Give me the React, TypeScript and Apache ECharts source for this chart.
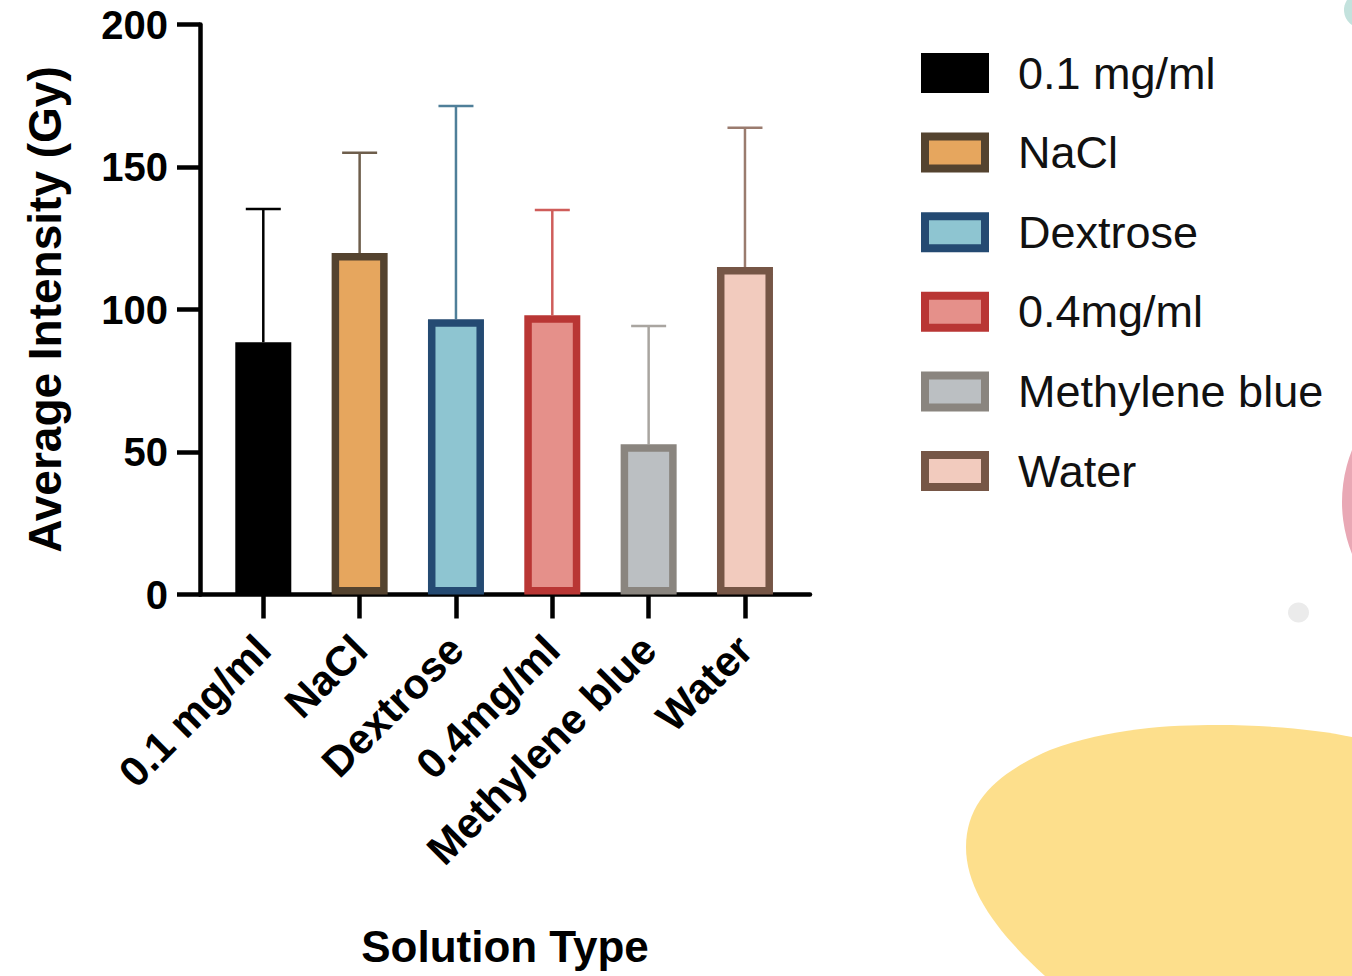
import React, { useEffect, useRef } from "react";
import * as echarts from "echarts";

const categories = ["0.1 mg/ml", "NaCl", "Dextrose", "0.4mg/ml", "Methylene blue", "Water"];
const means = [88.5, 119.8, 96.6, 98.0, 52.7, 114.9];
const errorTops = [135.3, 155.0, 171.4, 134.9, 94.2, 163.8];
const fillColors = ["#000000", "#e6a65e", "#8ec5d1", "#e5908a", "#bbbfc2", "#f2cbbe"];
const borderColors = ["#000000", "#54432f", "#244a72", "#b93634", "#8a857f", "#765646"];
const errorColors = ["#000000", "#6e5e4c", "#4f7f99", "#cf5d5a", "#a9a5a0", "#9a7b6e"];
const yTicks = [0, 50, 100, 150, 200];
const categoryPositions = [0, 1, 2, 3, 4, 5];

const FONT = "'Liberation Sans', Arial, Helvetica, sans-serif";

const blobPath =
  "M 1045 976 C 1000 935 966 892 966 847 C 966 800 1000 772 1050 750 C 1110 728 1170 725 1217 725 C 1270 725 1320 730 1352 737 L 1352 976 Z";

let registered = false;
function ensureShapes() {
  if (registered) return;
  echarts.graphic.registerShape("blob", echarts.graphic.extendPath(blobPath, {}));
  registered = true;
}

export default function App() {
  const ref = useRef<HTMLDivElement>(null);

  useEffect(() => {
    if (!ref.current) return;
    ensureShapes();
    const chart = echarts.init(ref.current, undefined, { renderer: "svg" });

    const barSeries = categories.map((name, i) => ({
      name,
      type: "bar",
      data: [[categoryPositions[i], means[i]]],
      barWidth: 56,
      barGap: "-100%",
      z: 3,
      itemStyle: {
        color: fillColors[i],
        borderColor: borderColors[i],
        borderWidth: 7.5,
      },
    }));

    const errorSeries = {
      type: "custom",
      z: 2,
      data: categories.map((_, i) => [categoryPositions[i], means[i], errorTops[i], i]),
      encode: { x: 0, y: [1, 2] },
      renderItem: (params: any, api: any) => {
        const x = api.value(0);
        const idx = api.value(3);
        const lo = api.coord([x, api.value(1)]);
        const hi = api.coord([x, api.value(2)]);
        const half = 17.5;
        const style = { stroke: errorColors[idx], lineWidth: 2.5 };
        return {
          type: "group",
          children: [
            { type: "line", shape: { x1: lo[0], y1: lo[1], x2: hi[0], y2: hi[1] }, style },
            { type: "line", shape: { x1: hi[0] - half, y1: hi[1], x2: hi[0] + half, y2: hi[1] }, style },
          ],
        };
      },
    };

    const option: any = {
      animation: false,
      backgroundColor: "#ffffff",
      textStyle: { fontFamily: FONT },
      grid: { left: 200, top: 24.5, width: 610, height: 570, containLabel: false },
      legend: {
        data: categories,
        orient: "vertical",
        left: 921,
        top: 50.5,
        padding: 0,
        itemWidth: 60,
        itemHeight: 32,
        itemGap: 34.6,
        icon: "rect",
        itemStyle: { borderWidth: 8 },
        textStyle: {
          fontFamily: FONT,
          fontSize: 45,
          color: "#111111",
          padding: [0, 0, 0, 28],
        },
        selectedMode: false,
      },
      xAxis: {
        type: "value",
        min: -0.657,
        max: 5.675,
        name: "Solution Type",
        nameLocation: "middle",
        nameGap: 330,
        nameTextStyle: { fontFamily: FONT, fontSize: 44, fontWeight: "bold", color: "#000" },
        splitLine: { show: false },
        axisLine: { show: true, onZero: false, lineStyle: { color: "#000", width: 4.5 } },
        axisTick: {
          show: true,
          length: 24,
          customValues: categoryPositions,
          lineStyle: { color: "#000", width: 4.5 },
        },
        axisLabel: {
          customValues: categoryPositions,
          formatter: (v: number) => categories[Math.round(v)] ?? "",
          rotate: 45,
          margin: 48,
          fontFamily: FONT,
          fontSize: 42,
          fontWeight: "bold",
          color: "#000",
        },
      },
      yAxis: {
        type: "value",
        min: 0,
        max: 200,
        interval: 50,
        name: "Average Intensity (Gy)",
        nameLocation: "middle",
        nameGap: 132,
        nameTextStyle: { fontFamily: FONT, fontSize: 46, fontWeight: "bold", color: "#000" },
        splitLine: { show: false },
        axisLine: { show: true, onZero: false, lineStyle: { color: "#000", width: 4.5 } },
        axisTick: { show: true, length: 23, lineStyle: { color: "#000", width: 4.5 } },
        axisLabel: {
          margin: 32,
          fontFamily: FONT,
          fontSize: 40,
          fontWeight: "bold",
          color: "#000",
          customValues: yTicks,
        },
      },
      graphic: [
        { type: "circle", shape: { cx: 1362, cy: 10, r: 18 }, style: { fill: "#c3e2dd" }, silent: true, z: -1 },
        { type: "circle", shape: { cx: 1482, cy: 502, r: 140 }, style: { fill: "#e9a8b5" }, silent: true, z: -1 },
        { type: "ellipse", shape: { cx: 1298.5, cy: 612.5, rx: 10.5, ry: 10 }, style: { fill: "#ebebeb" }, silent: true, z: -1 },
        { type: "blob", x: 0, y: 0, style: { fill: "#fddf8c" }, silent: true, z: -1 },
      ],
      series: [errorSeries, ...barSeries],
    };

    chart.setOption(option);
    return () => chart.dispose();
  }, []);

  return (
    <div
      ref={ref}
      style={{ position: "absolute", left: 0, top: 0, width: 1352, height: 976, background: "#fff" }}
    />
  );
}
